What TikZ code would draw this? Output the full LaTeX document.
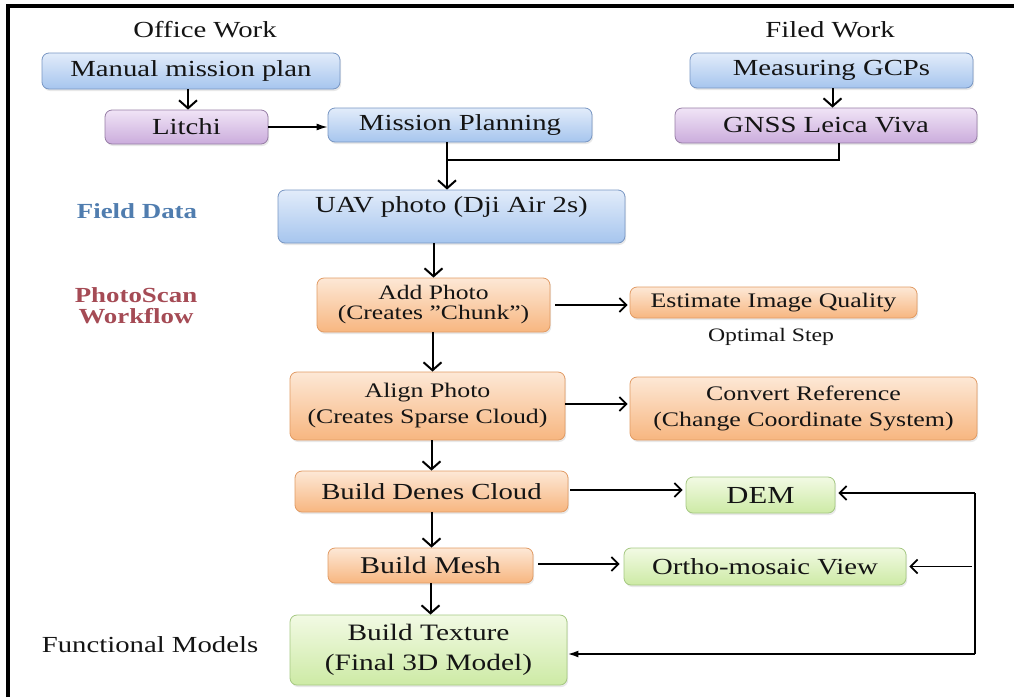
\documentclass[tikz,border=0pt]{standalone}
\usepackage{fontspec}
\setmainfont{Liberation Serif}[FakeStretch=1.25]
\usetikzlibrary{arrows.meta,shadows}
\definecolor{BlueTop}{rgb}{0.886,0.925,0.980}
\definecolor{BlueBot}{rgb}{0.651,0.773,0.933}
\definecolor{BlueLine}{rgb}{0.470,0.588,0.765}
\definecolor{PurpleTop}{rgb}{0.941,0.894,0.965}
\definecolor{PurpleBot}{rgb}{0.796,0.675,0.863}
\definecolor{PurpleLine}{rgb}{0.588,0.490,0.647}
\definecolor{OrangeTop}{rgb}{0.992,0.910,0.839}
\definecolor{OrangeBot}{rgb}{0.969,0.714,0.502}
\definecolor{OrangeLine}{rgb}{0.882,0.608,0.392}
\definecolor{GreenTop}{rgb}{0.949,0.980,0.894}
\definecolor{GreenBot}{rgb}{0.804,0.918,0.647}
\definecolor{GreenLine}{rgb}{0.647,0.784,0.510}
\definecolor{FieldClr}{rgb}{0.314,0.490,0.686}
\definecolor{ScanClr}{rgb}{0.647,0.294,0.333}
\definecolor{TextClr}{rgb}{0.08,0.08,0.08}

\begin{document}
\begin{tikzpicture}[x=1pt,y=-1pt,
  box/.style={draw,rounded corners=7pt,line width=0.8pt,align=center,inner sep=0pt,
    text=TextClr,font=\fontsize{23}{28}\selectfont,
    drop shadow={opacity=0.18,shadow xshift=1.2pt,shadow yshift=-2pt}},
  bluebox/.style={box,draw=BlueLine,top color=BlueTop,bottom color=BlueBot},
  purplebox/.style={box,draw=PurpleLine,top color=PurpleTop,bottom color=PurpleBot},
  orangebox/.style={box,draw=OrangeLine,top color=OrangeTop,bottom color=OrangeBot},
  greenbox/.style={box,draw=GreenLine,top color=GreenTop,bottom color=GreenBot},
  small/.style={font=\fontsize{20.7}{26}\selectfont},
  heading/.style={text=TextClr,font=\fontsize{23}{26}\selectfont,align=center},
  arr/.style={line width=2pt,-{Straight Barb[length=8pt,width=18pt,line width=2pt]}},
  harr/.style={line width=1.4pt,-{Straight Barb[length=7pt,width=14pt,line width=1.7pt]}},
  farr/.style={line width=1.4pt,-{Latex[length=11pt,width=7pt]}},
  link/.style={line width=1.4pt}]
\useasboundingbox (0,0) rectangle (1014,697);

% frame
\draw[line width=3.5pt] (8,697) -- (8,6) -- (1014,6);

% headings
\node[heading] (office) at (205,30) {Office Work};
\node[heading] (filed) at (830,30) {Filed Work};
\node[heading,text=FieldClr,font=\bfseries\fontsize{21.5}{26}\selectfont] (field) at (137,211) {Field Data};
\node[heading,text=ScanClr,font=\bfseries\fontsize{21.5}{21}\selectfont] (scan) at (136,306) {PhotoScan\\Workflow};
\node[heading,font=\fontsize{19}{22}\selectfont] (optimal) at (771,337) {Optimal Step};
\node[heading] (func) at (150,645) {Functional Models};

% office / field work
\node[bluebox,minimum width=298pt,minimum height=36pt] (manual) at (191,71) {Manual mission plan};
\node[purplebox,minimum width=163pt,minimum height=34pt] (litchi) at (186.5,127) {Litchi};
\node[bluebox,minimum width=264pt,minimum height=34pt] (mission) at (460,125) {Mission Planning};
\node[bluebox,minimum width=283pt,minimum height=35pt] (gcps) at (831.5,70.5) {Measuring GCPs};
\node[purplebox,minimum width=302pt,minimum height=35pt] (gnss) at (826,125.5) {GNSS Leica Viva};
\node[bluebox,minimum width=347pt,minimum height=53pt,text depth=24pt] (uav) at (451.5,216.5) {UAV photo (Dji Air 2s)};

% photoscan
\node[orangebox,minimum width=233pt,minimum height=54pt,font=\fontsize{20.5}{20}\selectfont] (addphoto) at (433.5,305) {Add Photo\\(Creates ”Chunk”)};
\node[orangebox,small,minimum width=287pt,minimum height=31pt] (estimate) at (773.5,302.5) {Estimate Image Quality};
\node[orangebox,small,minimum width=275pt,minimum height=68pt] (align) at (427.5,406) {Align Photo\\(Creates Sparse Cloud)};
\node[orangebox,small,minimum width=347pt,minimum height=63pt] (convert) at (803.5,408.5) {Convert Reference\\(Change Coordinate System)};
\node[orangebox,minimum width=273pt,minimum height=41pt] (denes) at (431.5,491.5) {Build Denes Cloud};
\node[orangebox,minimum width=205pt,minimum height=35pt,font=\fontsize{24}{28}\selectfont] (mesh) at (430.5,565.5) {Build Mesh};

% models
\node[greenbox,minimum width=149pt,minimum height=36pt,font=\fontsize{24.5}{28}\selectfont] (dem) at (760.5,495) {DEM};
\node[greenbox,minimum width=282pt,minimum height=37pt] (ortho) at (765,566.5) {Ortho-mosaic View};
\node[greenbox,minimum width=277pt,minimum height=70pt,font=\fontsize{23.5}{30}\selectfont] (texture) at (428.5,650) {Build Texture\\(Final 3D Model)};

% connectors
\coordinate (join) at (447,160);
\coordinate (fbtop) at (975,493);
\coordinate (fbbot) at (975,654);

\draw[arr] ([xshift=-3pt]manual.south) -- ([xshift=-3pt]manual.south |- litchi.north);
\draw[farr] (litchi.east) -- (litchi.east -| mission.west);
\draw[arr] ([xshift=1pt]gcps.south) -- ([xshift=1pt]gcps.south |- gnss.north);
\draw[link] ([xshift=13pt]gnss.south) |- (join);
\draw[arr] ([xshift=-13pt]mission.south) -- ([xshift=-13pt]mission.south |- uav.north);
\draw[arr] (addphoto.north |- uav.south) -- (addphoto.north);
\draw[harr] ([xshift=5pt]addphoto.east) -- ([xshift=-2pt]addphoto.east -| estimate.west);
\draw[arr] ([xshift=-1pt]addphoto.south) -- ([xshift=-1pt]addphoto.south |- align.north);
\draw[harr] ([yshift=2pt]align.east) -- ([xshift=-2pt,yshift=2pt]align.east -| convert.west);
\draw[arr] (denes.north |- align.south) -- (denes.north);
\draw[harr] ([xshift=2pt,yshift=1.5pt]denes.east) -- ([xshift=-3pt,yshift=1.5pt]denes.east -| dem.west);
\draw[arr] (denes.south) -- (denes.south |- mesh.north);
\draw[harr] ([xshift=5pt,yshift=1.5pt]mesh.east) -- ([xshift=-4pt,yshift=1.5pt]mesh.east -| ortho.west);
\draw[arr] (mesh.south) -- (mesh.south |- texture.north);
\draw[link,line width=2pt] (fbtop) -- (fbbot);
\draw[harr,line width=2pt] (fbtop) -- ([xshift=3pt]fbtop -| dem.east);
\draw[harr] ([xshift=-3pt]ortho.east -| fbtop) -- ([xshift=3pt]ortho.east);
\draw[farr,line width=2pt] (fbbot) -- (fbbot -| texture.east);
\end{tikzpicture}
\end{document}
